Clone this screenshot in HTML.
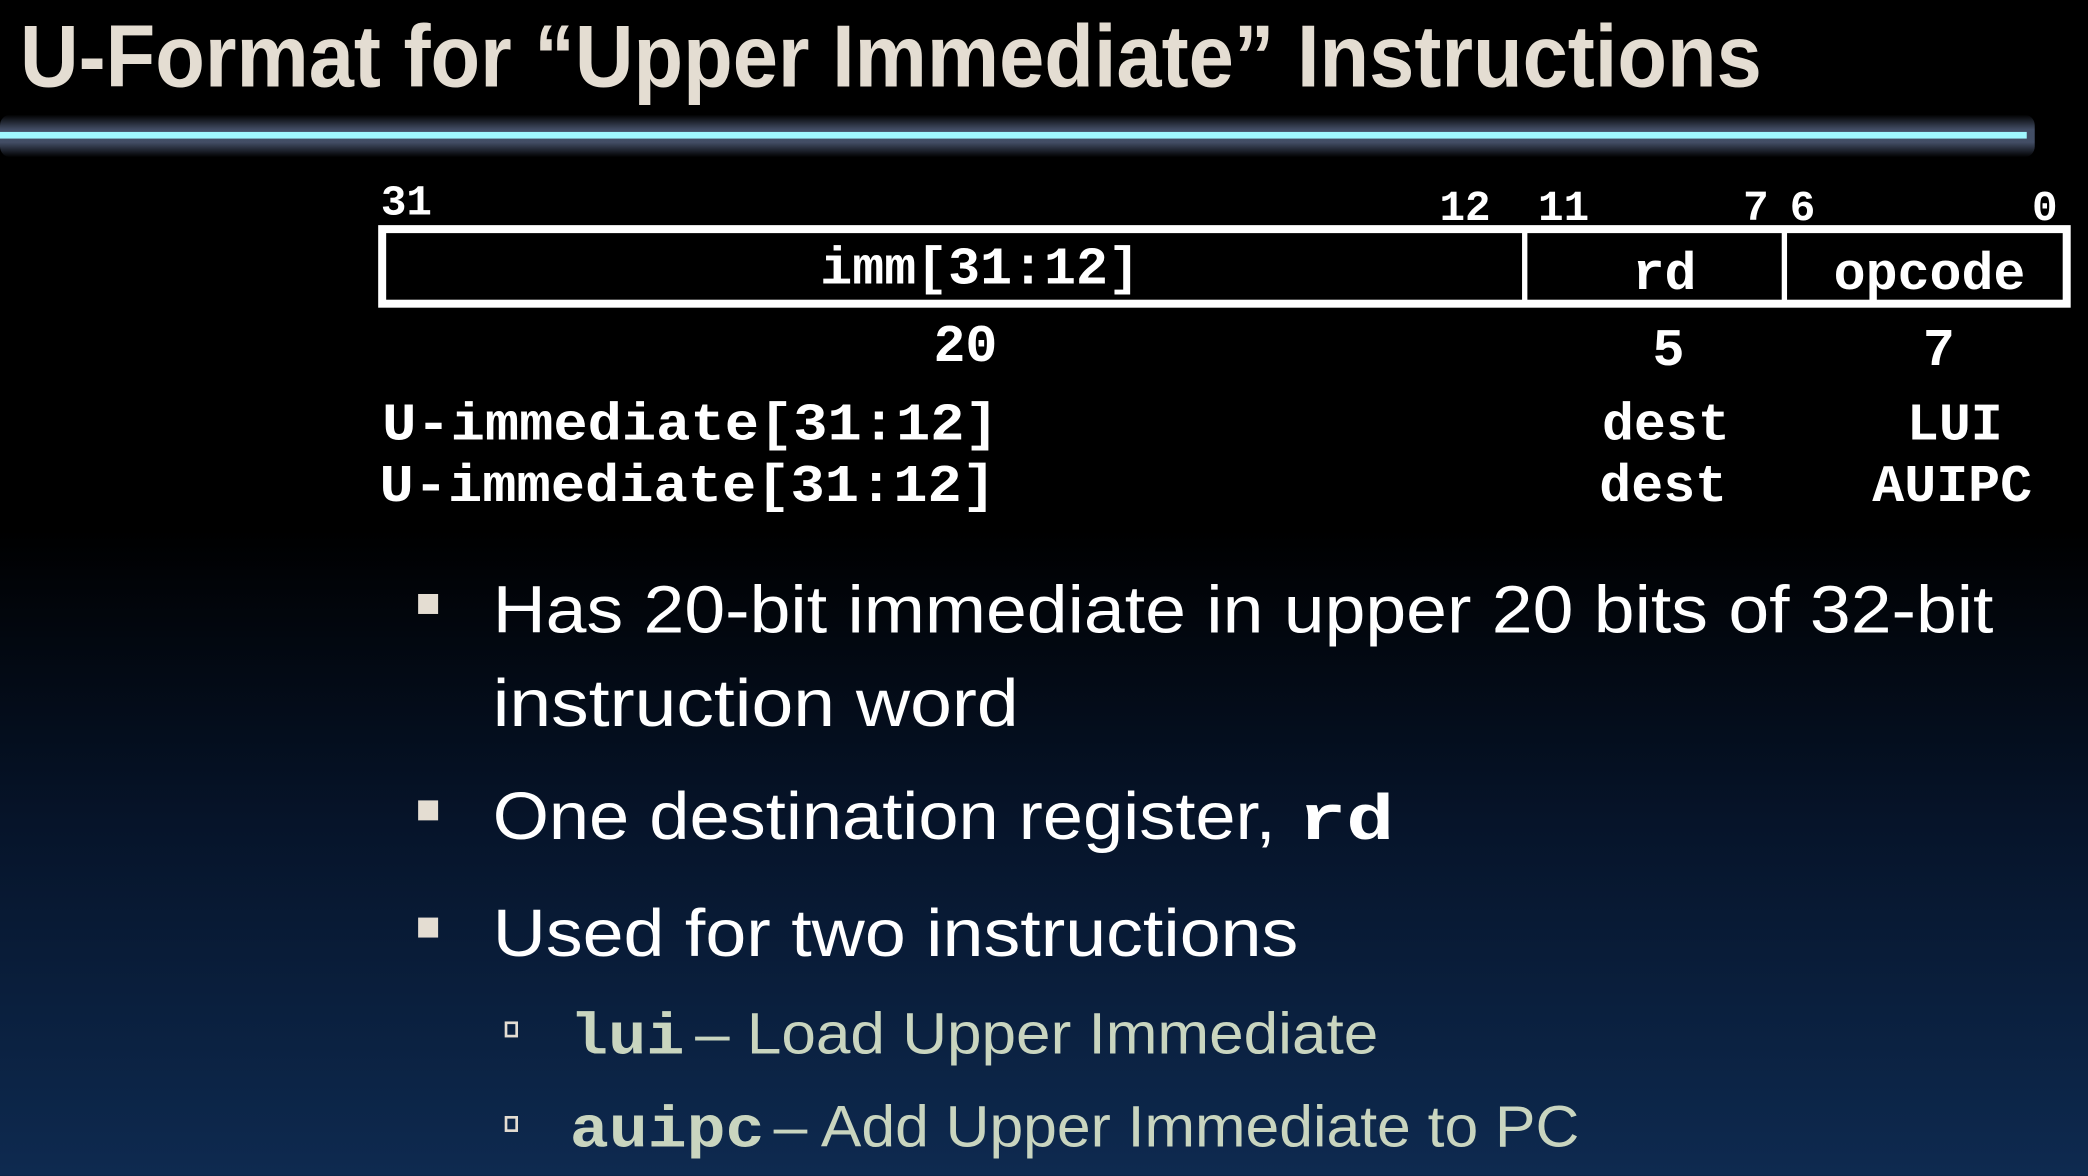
<!DOCTYPE html>
<html><head><meta charset="utf-8"><style>
html,body{margin:0;padding:0;background:#000;}
svg{display:block;}
</style></head><body>
<svg width="2088" height="1176" viewBox="0 0 1568 883" xmlns="http://www.w3.org/2000/svg">
<defs>
<linearGradient id="bg" x1="0" y1="0" x2="0" y2="1">
<stop offset="0" stop-color="#000"/>
<stop offset="0.45" stop-color="#000"/>
<stop offset="0.7" stop-color="#06142a"/>
<stop offset="1" stop-color="#0e2a50"/>
</linearGradient>
<linearGradient id="glow" x1="0" y1="0" x2="0" y2="1">
<stop offset="0" stop-color="#4a5670" stop-opacity="0"/>
<stop offset="0.35" stop-color="#4a5670" stop-opacity="0.9"/>
<stop offset="0.65" stop-color="#4a5670" stop-opacity="0.9"/>
<stop offset="1" stop-color="#4a5670" stop-opacity="0"/>
</linearGradient>
</defs>
<rect x="0" y="0" width="1568" height="883" fill="url(#bg)"/>
<rect x="0" y="86" width="1528" height="32" fill="url(#glow)" rx="8"/>
<rect x="0" y="99" width="1522" height="5" fill="#a0f8ff"/>
<text x="15" y="65" font-family="Liberation Sans, sans-serif" font-weight="bold" font-size="66" fill="#e4ddd2" textLength="1308" lengthAdjust="spacingAndGlyphs">U-Format for “Upper Immediate” Instructions</text>

<g font-family="Liberation Mono, monospace" font-weight="bold" fill="#fff">
<g font-size="32">
<text x="286" y="161">31</text>
<text x="1081" y="165">12</text>
<text x="1155" y="165">11</text>
<text x="1309" y="165">7</text>
<text x="1344" y="165">6</text>
<text x="1526" y="165">0</text>
</g>
<rect x="287" y="172" width="1265" height="56" fill="none" stroke="#fff" stroke-width="6"/>
<rect x="1143" y="172" width="4" height="56"/>
<rect x="1338" y="172" width="4" height="56"/>
<g font-size="40">
<text x="736" y="213" text-anchor="middle">imm[31:12]</text>
<text x="1250" y="217" text-anchor="middle">rd</text>
<text x="1449" y="217" text-anchor="middle">opcode</text>
<text x="725" y="271" text-anchor="middle">20</text>
<text x="1253" y="274" text-anchor="middle">5</text>
<text x="1456" y="274" text-anchor="middle">7</text>
<text x="287" y="330" textLength="463" lengthAdjust="spacingAndGlyphs">U-immediate[31:12]</text>
<text x="285" y="376" textLength="463" lengthAdjust="spacingAndGlyphs">U-immediate[31:12]</text>
<text x="1251" y="330" text-anchor="middle">dest</text>
<text x="1249" y="376" text-anchor="middle">dest</text>
<text x="1468" y="330" text-anchor="middle">LUI</text>
<text x="1466" y="376" text-anchor="middle">AUIPC</text>
</g>
</g>

<g fill="#e4ddd2">
<rect x="314" y="446" width="15" height="15"/>
<rect x="314" y="601" width="15" height="15"/>
<rect x="314" y="689" width="15" height="15"/>
</g>
<g font-family="Liberation Sans, sans-serif" font-size="50" fill="#fff">
<text x="370" y="475" textLength="1127" lengthAdjust="spacingAndGlyphs">Has 20-bit immediate in upper 20 bits of 32-bit</text>
<text x="370" y="545" textLength="395" lengthAdjust="spacingAndGlyphs">instruction word</text>
<text x="370" y="630" textLength="588" lengthAdjust="spacingAndGlyphs">One destination register,</text>
<text x="975" y="630" font-family="Liberation Mono, monospace" font-weight="bold" font-size="48" textLength="72" lengthAdjust="spacingAndGlyphs">rd</text>
<text x="370" y="718" textLength="605" lengthAdjust="spacingAndGlyphs">Used for two instructions</text>
</g>
<g fill="none" stroke="#e4ddd2" stroke-width="2">
<rect x="380" y="768" width="8" height="10"/>
<rect x="380" y="839" width="8" height="10"/>
</g>
<g font-family="Liberation Sans, sans-serif" font-size="44" fill="#c9d5bf">
<text x="428" y="791" font-family="Liberation Mono, monospace" font-weight="bold" textLength="86" lengthAdjust="spacingAndGlyphs">lui</text>
<text x="522" y="791" textLength="513" lengthAdjust="spacingAndGlyphs">– Load  Upper Immediate</text>
<text x="428" y="861" font-family="Liberation Mono, monospace" font-weight="bold" textLength="146" lengthAdjust="spacingAndGlyphs">auipc</text>
<text x="581" y="861" textLength="605" lengthAdjust="spacingAndGlyphs">– Add Upper Immediate to PC</text>
</g>
</svg>
</body></html>
